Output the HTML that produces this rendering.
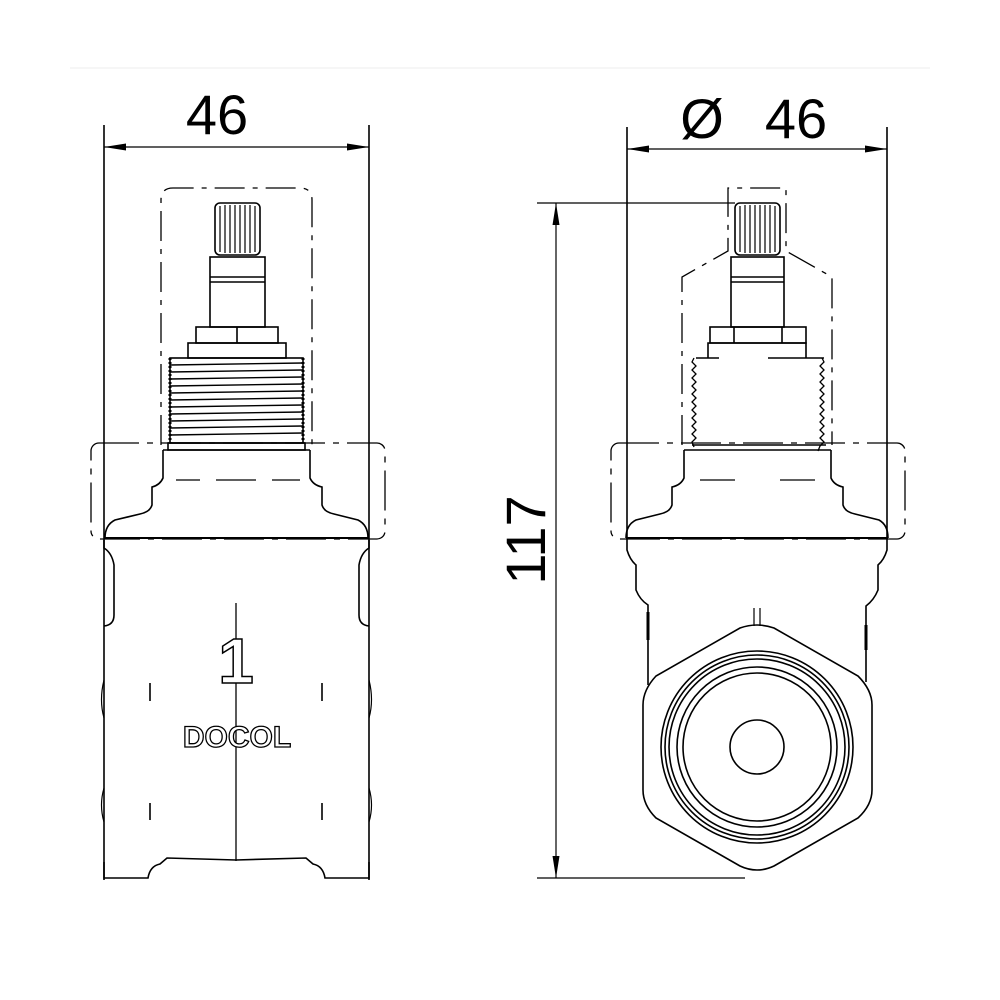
<!DOCTYPE html>
<html><head><style>
html,body{margin:0;padding:0;background:#fff;}
svg{display:block}
text{font-family:"Liberation Sans",sans-serif;}
</style></head><body>
<svg width="1000" height="1000" viewBox="0 0 1000 1000" xmlns="http://www.w3.org/2000/svg">
<defs>
<marker id="a" markerWidth="24" markerHeight="8" refX="22" refY="4" orient="auto-start-reverse" markerUnits="userSpaceOnUse">
<path d="M22,4 L0,0.5 L0,7.5 Z" fill="#000"/>
</marker>
</defs>
<line x1="70" y1="68" x2="930" y2="68" stroke="#eee" stroke-width="1"/>
<g fill="none" stroke="#000" stroke-width="1.6">
<!-- LEFT VIEW dimension -->
<line x1="104" y1="125" x2="104" y2="880"/>
<line x1="369" y1="125" x2="369" y2="880"/>
<line x1="104" y1="147" x2="369" y2="147" marker-start="url(#a)" marker-end="url(#a)" stroke-width="1.2"/>
<path d="M161,445 V200 Q161,188 173,188 H300 Q312,188 312,200 V445" stroke-dasharray="30,8,5,8" stroke-width="1.3"/>
<rect x="215" y="203" width="45" height="52" rx="5"/>
<g stroke-width="1.2"><line x1="220" y1="206" x2="220" y2="252"/><line x1="225" y1="205" x2="225" y2="253"/><line x1="230" y1="205" x2="230" y2="253"/><line x1="235" y1="205" x2="235" y2="253"/><line x1="240" y1="205" x2="240" y2="253"/><line x1="245" y1="205" x2="245" y2="253"/><line x1="250" y1="205" x2="250" y2="253"/><line x1="255" y1="206" x2="255" y2="252"/></g>
<rect x="210" y="257" width="55" height="70"/>
<line x1="210" y1="277" x2="265" y2="277"/><line x1="210" y1="282" x2="265" y2="282"/>
<rect x="196" y="327" width="82" height="16"/>
<line x1="237" y1="327" x2="237" y2="343"/>
<rect x="188" y="343" width="98" height="15"/>
<rect x="170" y="358" width="133" height="85"/>
<g stroke-width="1.4">
<line x1="170" y1="365" x2="303" y2="363"/><line x1="170" y1="372" x2="303" y2="370"/><line x1="170" y1="379" x2="303" y2="377"/><line x1="170" y1="386" x2="303" y2="384"/><line x1="170" y1="393" x2="303" y2="391"/><line x1="170" y1="400" x2="303" y2="398"/><line x1="170" y1="407" x2="303" y2="405"/><line x1="170" y1="414" x2="303" y2="412"/><line x1="170" y1="421" x2="303" y2="419"/><line x1="170" y1="428" x2="303" y2="426"/><line x1="170" y1="435" x2="303" y2="433"/>
</g>
<path d="M170,358 v85 M303,358 v85" stroke-width="3" stroke-dasharray="2,2"/>
<rect x="168" y="443" width="137" height="7"/>
<path d="M163,450 V478 Q160,485 152,487 V505 Q150,512 140,514 L115,520 Q105,525 105,538 M310,450 V478 Q313,485 322,487 V505 Q324,512 334,514 L358,520 Q368,525 368,538"/>
<line x1="163" y1="450" x2="310" y2="450"/>
<path d="M176,480 H200 M216,480 H256 M272,480 H300" stroke-width="1.3"/>
<rect x="91" y="443" width="294" height="96" rx="8" stroke-dasharray="40,8,6,8" stroke-width="1.3"/>
<line x1="104" y1="538" x2="369" y2="538" stroke-width="2"/>
<path d="M104,540 V548 Q112,553 114,565 V615 Q114,625 104,626"/>
<path d="M369,540 V548 Q361,553 359,565 V615 Q359,625 369,626"/>
<path d="M104,680 Q99,700 104,718 M104,788 Q99,805 104,822 M369,680 Q374,700 369,718 M369,788 Q374,805 369,822" stroke-width="1.2"/>
<path d="M104,862 V878 H148 Q150,866 160,864 L167,858 Q170,858 236,860 Q303,858 306,858 L313,864 Q323,866 325,878 H369 V862"/>
<line x1="236" y1="603" x2="236" y2="861" stroke-width="1.3"/>
<line x1="150" y1="683" x2="150" y2="701"/><line x1="322" y1="683" x2="322" y2="701"/>
<line x1="150" y1="803" x2="150" y2="820"/><line x1="322" y1="803" x2="322" y2="820"/>

<!-- RIGHT VIEW -->
<line x1="627" y1="127" x2="627" y2="540"/>
<line x1="887" y1="127" x2="887" y2="540"/>
<line x1="627" y1="149" x2="887" y2="149" marker-start="url(#a)" marker-end="url(#a)" stroke-width="1.2"/>
<line x1="537" y1="203" x2="735" y2="203" stroke-width="1.2"/>
<line x1="537" y1="878" x2="745" y2="878" stroke-width="1.2"/>
<line x1="556" y1="203" x2="556" y2="878" marker-start="url(#a)" marker-end="url(#a)" stroke-width="1.2"/>
<path d="M682,445 V277 L728,251 V188 H786 V251 L832,277 V445" stroke-dasharray="30,8,5,8" stroke-width="1.3"/>
<rect x="735" y="203" width="45" height="52" rx="5"/>
<g stroke-width="1.2"><line x1="740" y1="206" x2="740" y2="252"/><line x1="745" y1="205" x2="745" y2="253"/><line x1="750" y1="205" x2="750" y2="253"/><line x1="755" y1="205" x2="755" y2="253"/><line x1="760" y1="205" x2="760" y2="253"/><line x1="765" y1="205" x2="765" y2="253"/><line x1="770" y1="205" x2="770" y2="253"/><line x1="775" y1="206" x2="775" y2="252"/></g>
<rect x="731" y="257" width="53" height="70"/>
<line x1="731" y1="277" x2="784" y2="277"/><line x1="731" y1="282" x2="784" y2="282"/>
<rect x="710" y="327" width="96" height="16"/>
<line x1="734" y1="327" x2="734" y2="343"/><line x1="782" y1="327" x2="782" y2="343"/>
<path d="M708,358 V343 H806 V358 M696,358 H719 M768,358 H824"/>
<path d="M694,358 l-2,4 l4,4 l-4,4 l4,4 l-4,4 l4,4 l-4,4 l4,4 l-4,4 l4,4 l-4,4 l4,4 l-4,4 l4,4 l-4,4 l4,4 l-4,4 l4,4 l-4,4 l4,4 l-4,4 l2,5" stroke-width="1.3"/>
<path d="M822,358 l2,4 l-4,4 l4,4 l-4,4 l4,4 l-4,4 l4,4 l-4,4 l4,4 l-4,4 l4,4 l-4,4 l4,4 l-4,4 l4,4 l-4,4 l4,4 l-4,4 l4,4 l-4,4 l4,4 l-4,4 l-2,5" stroke-width="1.3"/>
<line x1="692" y1="445" x2="826" y2="445"/>
<path d="M684,450 V478 Q681,485 672,487 V505 Q670,512 660,514 L636,520 Q626,525 626,538 M831,450 V478 Q834,485 843,487 V505 Q845,512 855,514 L879,520 Q888,525 888,538"/>
<line x1="684" y1="450" x2="831" y2="450"/>
<path d="M700,480 H735 M780,480 H815" stroke-width="1.3"/>
<rect x="611" y="443" width="294" height="96" rx="8" stroke-dasharray="40,8,6,8" stroke-width="1.3"/>
<line x1="626" y1="538" x2="888" y2="538" stroke-width="2"/>
<path d="M627,540 V550 Q630,560 636,565 V590 Q640,600 648,605 V685"/>
<path d="M887,540 V550 Q884,560 878,565 V590 Q874,600 866,606 V682"/>
<path d="M648,612 V640 M866,625 V650" stroke-width="3"/>
<path d="M740,628 Q757,622 774,628 L858,676 Q872,690 872,705 V790 Q872,805 858,818 L774,866 Q757,874 740,866 L656,818 Q643,805 643,790 V705 Q643,690 656,676 Z"/>
<line x1="754" y1="608" x2="754" y2="626" stroke-width="1.2"/><line x1="760" y1="608" x2="760" y2="626" stroke-width="1.2"/>
<circle cx="757" cy="747" r="96"/>
<circle cx="757" cy="747" r="92"/>
<circle cx="757" cy="747" r="88"/>
<circle cx="757" cy="747" r="80"/>
<circle cx="757" cy="747" r="74"/>
<circle cx="757" cy="747" r="27"/>
</g>
<text x="217" y="134" font-size="56" text-anchor="middle">46</text>
<text x="702" y="138" font-size="56" text-anchor="middle">Ø</text>
<text x="796" y="138" font-size="56" text-anchor="middle">46</text>
<text transform="translate(545,540) rotate(-90)" font-size="56" text-anchor="middle">117</text>
<text x="236" y="683" font-size="64" font-weight="bold" text-anchor="middle" fill="#fff" stroke="#000" stroke-width="1.5">1</text>
<text x="237" y="747" font-size="30" font-weight="bold" text-anchor="middle" fill="#fff" stroke="#000" stroke-width="1.3">DOCOL</text>
</svg>
</body></html>
